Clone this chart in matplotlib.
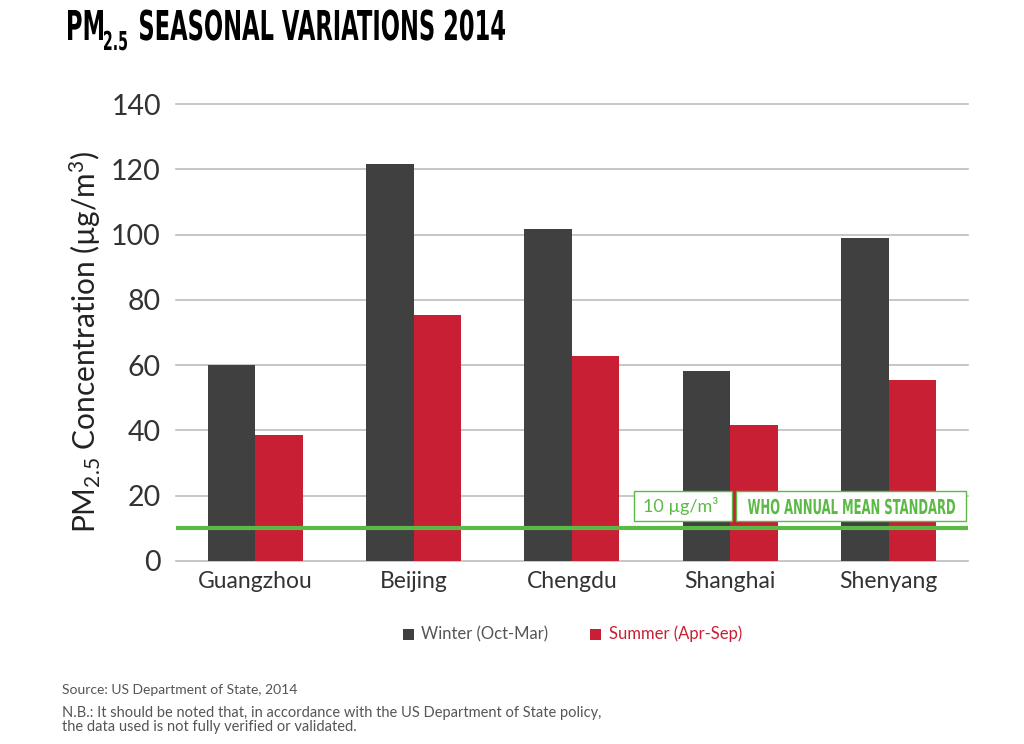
import numpy as np
import matplotlib
matplotlib.use('Agg')
import matplotlib.pyplot as plt
from matplotlib.patches import Rectangle, PathPatch
from matplotlib.textpath import TextPath
from matplotlib.font_manager import FontProperties
from matplotlib.transforms import Affine2D

cities = ['Guangzhou', 'Beijing', 'Chengdu', 'Shanghai', 'Shenyang']
winter = [60, 121.6, 101.8, 58.2, 99.0]
summer = [38.6, 75.4, 62.7, 41.6, 55.4]
who_level = 10
yticks = [0, 20, 40, 60, 80, 100, 120, 140]

winter_col = '#404040'
summer_col = '#C81F35'
green = '#5BB946'
text_gray = '#333333'

plt.rcParams['font.family'] = ['Lato', 'DejaVu Sans']
plt.rcParams['mathtext.default'] = 'regular'

W, H = 1024, 744
fig = plt.figure(figsize=(W / 100, H / 100), dpi=100)
ax = fig.add_axes([0.172, 0.246, 0.773, 0.614])


def squeezed(s, x0, x1, base, cap, color, size_ref=40):
    # condensed bold text drawn as a path, fitted to a pixel box (top-left origin)
    prop = FontProperties(family='DejaVu Sans', weight='bold')
    tp = TextPath((0, 0), s, size=size_ref, prop=prop)
    ext = tp.get_extents()
    sy = cap / (0.729 * size_ref)
    sx = (x1 - x0) / ext.width
    tr = Affine2D().translate(-ext.x0, 0).scale(sx, sy).translate(x0, H - base)
    fig.add_artist(PathPatch(tp, transform=tr, fc=color, ec='none', lw=0, zorder=7))


def box(x0, y0, x1, y1, color):
    fig.add_artist(Rectangle((x0, H - y1), x1 - x0, y1 - y0, transform=None,
                             fc='white', ec=color, lw=1, zorder=5))


x = np.arange(len(cities))
w = 0.30
ax.bar(x - w / 2, winter, w, color=winter_col, zorder=3)
ax.bar(x + w / 2, summer, w, color=summer_col, zorder=3)

ax.set_xlim(-0.5, len(cities) - 0.5)
ax.set_ylim(0, 140)
ax.set_yticks(yticks)
ax.set_xticks(x)
ax.set_xticklabels(cities, fontsize=16.5, color=text_gray)
ax.set_yticklabels([str(t) for t in yticks], fontsize=20.5, color=text_gray)
ax.tick_params(axis='both', length=0)
ax.tick_params(axis='y', pad=11)
ax.tick_params(axis='x', pad=7)
for y in yticks:
    ax.axhline(y, color='#BEBEBE', lw=1.2, zorder=1, clip_on=False)
for s in ax.spines.values():
    s.set_visible(False)

fig.text(85 / W, 1 - 342 / H, 'PM$_{2.5}$ Concentration (µg/m$^3$)', fontsize=21.5,
         color='#222222', rotation=90, ha='center', va='center')

# WHO standard line
ax.axhline(who_level, color=green, lw=3, zorder=4)
box(634, 491, 732, 521, green)
fig.text(681 / W, 1 - 506 / H, '10 µg/m³', fontsize=13, color=green,
         ha='center', va='center', zorder=6)
box(736, 491, 966, 521, green)
squeezed('WHO ANNUAL MEAN STANDARD', 748, 955, 514, 15, green)

# title
squeezed('PM', 68, 103, 40, 30, 'black')
squeezed('2.5', 104, 127, 50, 19, 'black')
squeezed('SEASONAL VARIATIONS 2014', 140, 505, 40, 30, 'black')

# legend
fig.add_artist(Rectangle((403, H - 640), 11, 11, transform=None, fc=winter_col, ec='none'))
fig.text(421 / W, 1 - 634 / H, 'Winter (Oct-Mar)', fontsize=12, color='#555555', va='center')
fig.add_artist(Rectangle((590, H - 640), 11, 11, transform=None, fc=summer_col, ec='none'))
fig.text(609 / W, 1 - 634 / H, 'Summer (Apr-Sep)', fontsize=12, color=summer_col, va='center')

# notes
fig.text(62 / W, 1 - 690 / H, 'Source: US Department of State, 2014', fontsize=10,
         color='#555555', va='center')
fig.text(62 / W, 1 - 720 / H, 'N.B.: It should be noted that, in accordance with the US Department of State policy,\n'
         'the data used is not fully verified or validated.', fontsize=10.5,
         color='#555555', va='center', linespacing=0.95)

fig.savefig('out.png', dpi=100, facecolor='white')
